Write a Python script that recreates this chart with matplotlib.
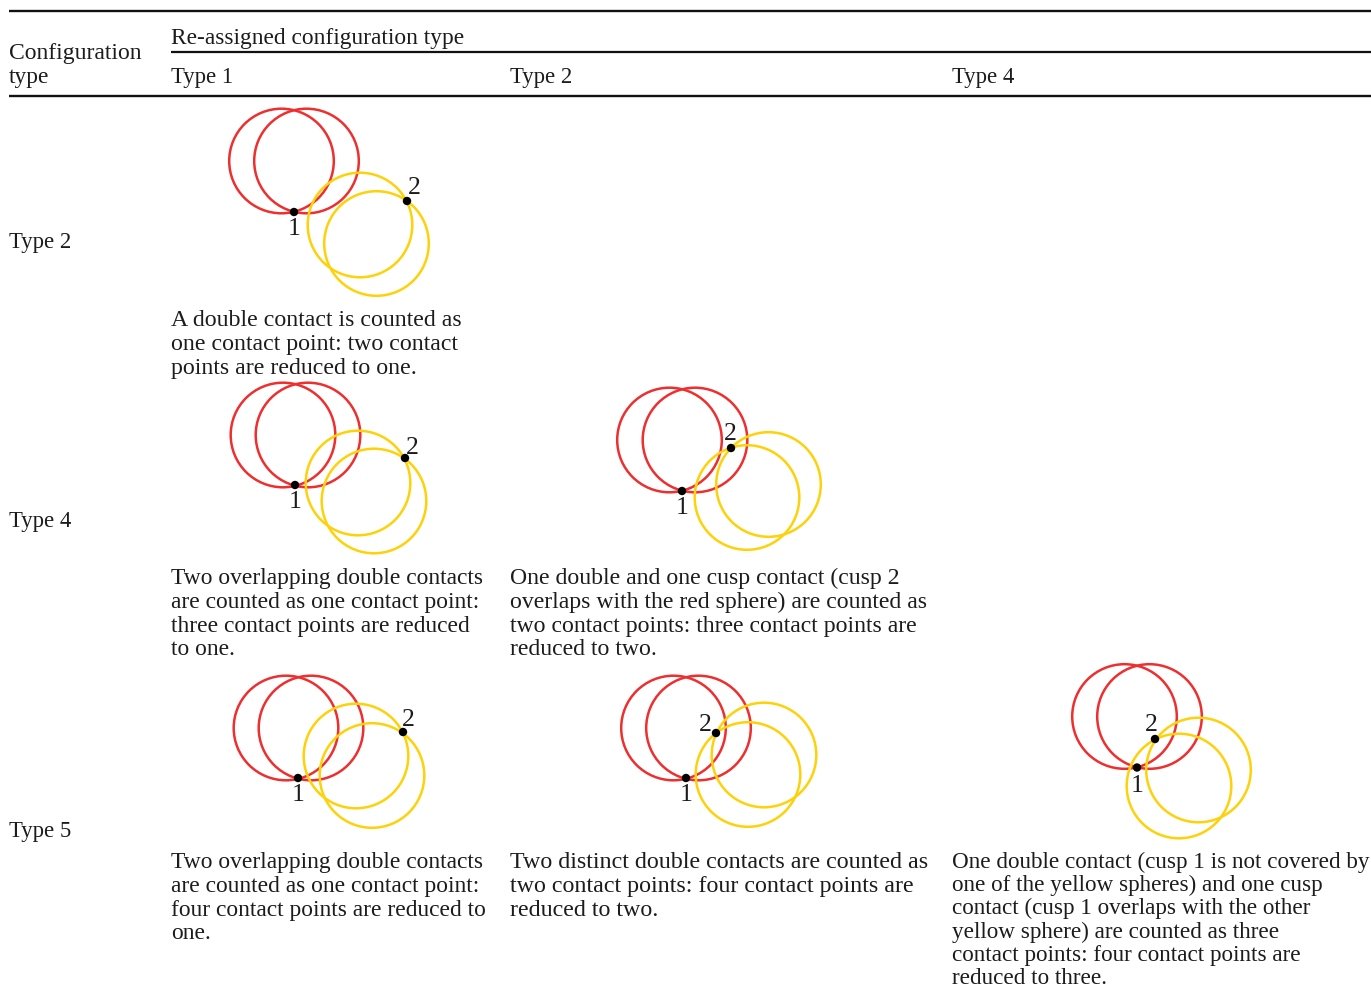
import matplotlib
matplotlib.use("Agg")
import matplotlib.pyplot as plt
from matplotlib.patches import Circle

plt.rcParams['font.family'] = ['Liberation Serif', 'DejaVu Serif']

RED = '#ee2f2f'
YELLOW = '#fdd20a'
INK = '#1c1c1c'
RADIUS = 52.3

# one entry per diagram: type 2/1, type 4/1, type 4/2, type 5/1, type 5/2, type 5/4
red_centres = [
    [(281.5, 161), (306.5, 161)],
    [(283, 435), (308, 435)],
    [(669.5, 440), (695, 440)],
    [(286, 728), (311, 728)],
    [(673.5, 728), (698.5, 728)],
    [(1124.5, 716.5), (1149.5, 716.5)],
]
yellow_centres = [
    [(360, 225), (376.5, 243.5)],
    [(358, 483), (374, 501)],
    [(747, 497.5), (768.5, 484.5)],
    [(356, 756), (372, 775.5)],
    [(764, 755), (748, 774.5)],
    [(1179, 786), (1198.5, 770)],
]
contact_points = [
    [(294, 212), (407, 201)],
    [(295, 485), (405, 458)],
    [(682, 491), (731, 448)],
    [(298, 778), (403, 732)],
    [(686, 778), (716, 733)],
    [(1137, 767.5), (1155, 739)],
]
point_labels = [
    [(294, 227), (414, 186)],
    [(295, 500), (412, 446)],
    [(682, 506), (730, 432)],
    [(298, 793), (408, 718)],
    [(686, 793), (705, 723)],
    [(1137, 784), (1151, 723)],
]

columns = ["Type 1", "Type 2", "Type 4"]
rows = ["Type 2", "Type 4", "Type 5"]
captions = [
    ["A double contact is counted as", "one contact point: two contact",
     "points are reduced to one."],
    ["Two overlapping double contacts", "are counted as one contact point:",
     "three contact points are reduced", "to one."],
    ["One double and one cusp contact (cusp 2", "overlaps with the red sphere) are counted as",
     "two contact points: three contact points are", "reduced to two."],
    ["Two overlapping double contacts", "are counted as one contact point:",
     "four contact points are reduced to", "one."],
    ["Two distinct double contacts are counted as", "two contact points: four contact points are",
     "reduced to two."],
    ["One double contact (cusp 1 is not covered by", "one of the yellow spheres) and one cusp",
     "contact (cusp 1 overlaps with the other", "yellow sphere) are counted as three",
     "contact points: four contact points are", "reduced to three."],
]
caption_x = [171, 171, 510, 171, 510, 952]
caption_y = [326, 584, 584, 868, 868, 868]
caption_fs = [17.2, 16.95, 17.15, 16.95, 17.3, 16.7]

fig = plt.figure(figsize=(13.71, 9.89), dpi=100)
ax = fig.add_axes([0, 0, 1, 1])
ax.set_xlim(0, 1371)
ax.set_ylim(989, 0)
ax.axis('off')


def put(x, y, s, fs=16.8):
    ax.text(x, y, s, fontsize=fs, color=INK, va='baseline', ha='left')


# table rules
ax.plot([9, 1371], [10.5, 10.5], color='#111111', lw=1.7, solid_capstyle='butt')
ax.plot([171, 1371], [52, 52], color='#111111', lw=1.6, solid_capstyle='butt')
ax.plot([9, 1371], [96, 96], color='#111111', lw=1.7, solid_capstyle='butt')

# header
put(9, 59, "Configuration", 17.0)
put(9, 83, "type")
put(171, 44, "Re-assigned configuration type")
for x, name in zip([171, 510, 952], columns):
    put(x, 83, name, 16.4)
for y, name in zip([248, 527, 837], rows):
    put(9, y, name, 16.4)

for x, y0, fs, lines in zip(caption_x, caption_y, caption_fs, captions):
    # last line of the tall caption sits on the page edge, so tighten it a little
    pitch = 23.8 if len(lines) < 6 else 23.2
    for i, line in enumerate(lines):
        put(x, y0 + i * pitch, line, fs)

# sphere diagrams
for reds, yellows, points, labels in zip(red_centres, yellow_centres, contact_points, point_labels):
    for c in reds:
        ax.add_patch(Circle(c, RADIUS, fill=False, ec=RED, lw=1.8))
    for c in yellows:
        ax.add_patch(Circle(c, RADIUS, fill=False, ec=YELLOW, lw=1.8))
    for c in points:
        ax.add_patch(Circle(c, 4.2, fc='black', ec='none', zorder=4))
    for n, (x, y) in enumerate(labels):
        ax.text(x, y + 2, str(n + 1), fontsize=18.5, color=INK, ha='center', va='center', zorder=5)

fig.savefig("out.png", dpi=100)
